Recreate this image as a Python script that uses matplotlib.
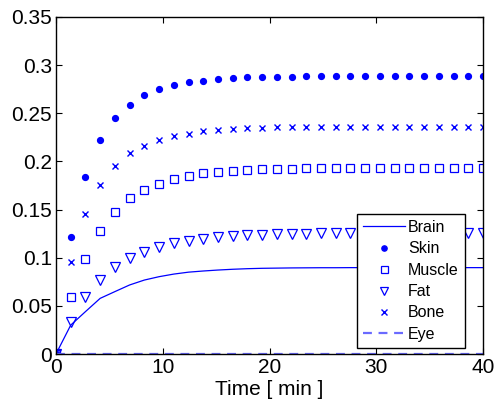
import matplotlib
matplotlib.use('Agg')
import matplotlib.pyplot as plt
import numpy as np

plt.rcParams['font.family'] = ['Liberation Sans', 'DejaVu Sans']

# 30 samples over 0..40 min
t = np.linspace(0, 40, 30)

brain = [0, 0.030, 0.044, 0.0578, 0.0648, 0.0717, 0.0768, 0.0803, 0.0830, 0.0850,
         0.0862, 0.0872, 0.0880, 0.0886, 0.0890, 0.0892, 0.0894, 0.0895, 0.0896, 0.0896,
         0.0897, 0.0897, 0.0897, 0.0897, 0.0897, 0.0897, 0.0897, 0.0897, 0.0897, 0.0897]
skin = [0, 0.121, 0.184, 0.222, 0.245, 0.259, 0.269, 0.275, 0.279, 0.282,
        0.284, 0.2856, 0.2866, 0.2872, 0.2877, 0.288, 0.2882, 0.2884, 0.2885, 0.2886,
        0.2886, 0.2887, 0.2887, 0.2887, 0.2887, 0.2887, 0.2887, 0.2887, 0.2887, 0.2887]
muscle = [0, 0.0595, 0.099, 0.1277, 0.147, 0.1623, 0.1706, 0.1769, 0.1817, 0.1852,
          0.188, 0.1893, 0.1904, 0.1911, 0.1918, 0.1922, 0.1926, 0.1929, 0.1931, 0.1932,
          0.1933, 0.1934, 0.1934, 0.1935, 0.1935, 0.1935, 0.1935, 0.1935, 0.1935, 0.1935]
fat = [0, 0.0336, 0.0588, 0.0765, 0.090, 0.0993, 0.1056, 0.1108, 0.115, 0.1177,
       0.1198, 0.1215, 0.1225, 0.1233, 0.1240, 0.1245, 0.1248, 0.1251, 0.1253, 0.1255,
       0.1256, 0.1257, 0.1258, 0.1258, 0.1259, 0.1259, 0.1259, 0.1259, 0.1259, 0.1259]
bone = [0, 0.0955, 0.145, 0.176, 0.1956, 0.2084, 0.2163, 0.222, 0.226, 0.229,
        0.2313, 0.2323, 0.2334, 0.2344, 0.2350, 0.2354, 0.2357, 0.2359, 0.2360, 0.2361,
        0.2361, 0.2362, 0.2362, 0.2362, 0.2362, 0.2362, 0.2362, 0.2362, 0.2362, 0.2362]
eye = [0] * 30

fig = plt.figure(figsize=(4.96, 4.05), dpi=100)
ax = fig.add_axes([56 / 496, 1 - 354 / 405, 427 / 496, 337 / 405])

blue = '#0000ff'
ax.plot(t, brain, '-', color=blue, lw=0.9, label='Brain')
ax.plot(t, skin, 'o', color=blue, ms=4.2, ls='none', label='Skin')
ax.plot(t, muscle, 's', mfc='none', mec=blue, ms=5.6, mew=0.9, ls='none', label='Muscle')
ax.plot(t, fat, 'v', mfc='none', mec=blue, ms=6.8, mew=0.9, ls='none', label='Fat')
ax.plot(t, bone, 'x', color=blue, ms=4.6, mew=1.0, ls='none', label='Bone')
ax.plot(t, eye, '--', color='#6a6aff', lw=1.6, dashes=(4, 3), label='Eye')

ax.set_xlim(0, 40)
ax.set_ylim(0, 0.35)
ax.set_xticks([0, 10, 20, 30, 40])
ax.set_yticks([0, 0.05, 0.1, 0.15, 0.2, 0.25, 0.3, 0.35])
ax.set_yticklabels(['0', '0.05', '0.1', '0.15', '0.2', '0.25', '0.3', '0.35'])
ax.tick_params(direction='in', top=True, right=True, labelsize=15, length=4, width=0.8, pad=3)
for s in ax.spines.values():
    s.set_linewidth(1.0)
ax.set_xlabel('Time [ min ]', fontsize=15, labelpad=2)

leg = ax.legend(loc='lower right', bbox_to_anchor=(0.958, 0.017), borderaxespad=0,
                fontsize=11.5, handlelength=2.6, handletextpad=0.2, labelspacing=0.4,
                borderpad=0.4, fancybox=False, edgecolor='black', framealpha=1,
                markerscale=0.9)
leg.get_frame().set_linewidth(1.0)

fig.savefig('out.png', dpi=100)
